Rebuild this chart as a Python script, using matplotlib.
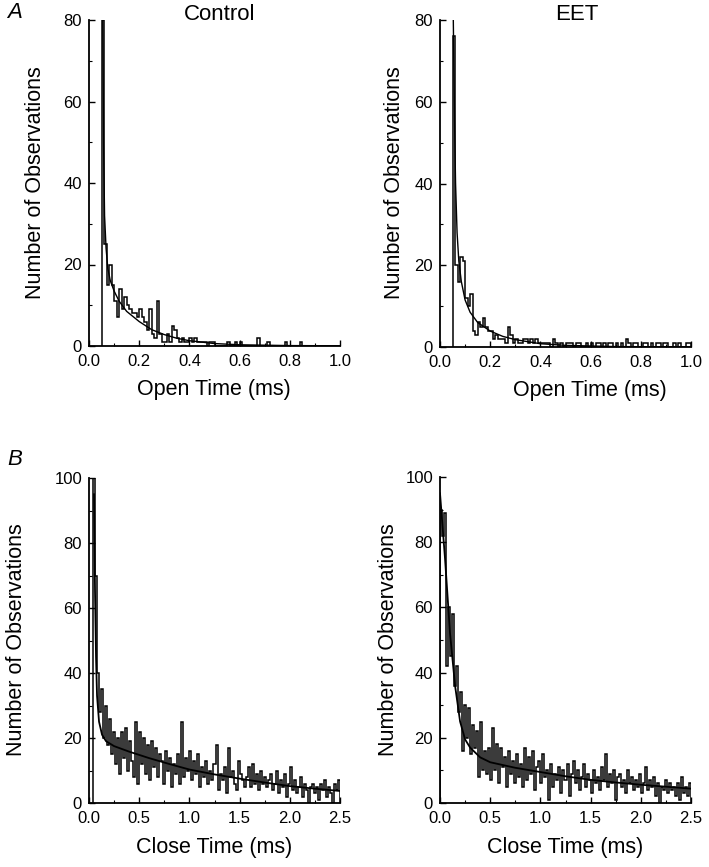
import numpy as np
import matplotlib
matplotlib.use('Agg')
import matplotlib.pyplot as plt
from matplotlib.ticker import MultipleLocator

plt.rcParams['font.family'] = ['Liberation Sans', 'DejaVu Sans']

# ---- Datos: tiempos de apertura (bins de 0.01 ms desde 0.05 ms)
open_start = 0.05
open_bin = 0.01
open_control = [80, 25, 15, 20, 15, 11, 7, 14, 9, 12, 10, 9, 8, 8, 7, 9, 7, 6, 4, 9,
                3, 2, 11, 3, 1, 1, 3, 1, 5, 4, 2, 1, 2, 1, 1, 2, 1, 2, 1, 1,
                1, 1, 0, 1, 1, 0, 0, 0, 0, 0, 1, 0, 0, 1, 0, 1, 0, 0, 0, 0,
                0, 0, 2, 0, 0, 0, 1, 0, 0, 0, 0, 0, 0, 1, 0, 0, 0, 0, 0, 1,
                0, 0, 0, 0, 0, 0, 0, 0, 0, 0, 0, 0, 0, 0, 0]
open_eet = [76, 20, 16, 22, 21, 12, 10, 13, 4, 3, 6, 5, 7, 5, 4, 4, 2, 3, 2, 2,
            2, 1, 5, 3, 1, 2, 1, 1, 2, 2, 1, 2, 1, 2, 1, 1, 1, 1, 1, 0,
            2, 1, 0, 1, 0, 1, 1, 1, 0, 1, 1, 0, 0, 1, 0, 1, 0, 1, 1, 0,
            1, 0, 1, 1, 0, 1, 0, 1, 0, 2, 1, 0, 1, 1, 0, 0, 1, 1, 0, 1,
            0, 1, 1, 0, 1, 1, 0, 0, 1, 0, 1, 0, 0, 1, 1]

# curvas de ajuste
fit_open_control_t = [0.055, 0.058, 0.062, 0.068, 0.075, 0.085, 0.10, 0.12, 0.15, 0.20,
                      0.25, 0.30, 0.35, 0.40, 0.50, 0.60, 0.80, 1.00]
fit_open_control_y = [80, 50, 32, 24, 19, 16, 13.5, 11, 8.5, 6.0,
                      4.0, 2.8, 1.9, 1.3, 0.6, 0.3, 0.1, 0.05]
fit_open_eet_t = [0.053, 0.058, 0.062, 0.068, 0.075, 0.085, 0.10, 0.12, 0.15, 0.20,
                  0.25, 0.30, 0.40, 0.50, 0.70, 1.00]
fit_open_eet_y = [80, 55, 40, 28, 21, 16, 11.5, 8.5, 6.0, 3.9,
                  2.6, 1.8, 0.8, 0.4, 0.1, 0.02]

# ---- Datos: tiempos de cierre (bins de 0.02 ms)
close_bin = 0.02
close_control_start = 0.04
close_control = [100, 70, 40, 28, 35, 20, 30, 18, 26, 15, 22, 12, 20, 9, 22, 14, 23, 10, 19, 13,
                 8, 25, 6, 22, 12, 20, 9, 18, 7, 19, 11, 17, 8, 15, 13, 6, 16, 10, 14, 5,
                 12, 9, 15, 6, 25, 8, 14, 10, 16, 7, 13, 9, 15, 5, 11, 8, 13, 6, 10, 7,
                 12, 18, 4, 9, 7, 11, 3, 17, 8, 10, 6, 4, 13, 9, 7, 5, 8, 11, 5, 12,
                 6, 9, 4, 10, 6, 8, 5, 7, 9, 4, 6, 10, 3, 7, 5, 9, 2, 6, 11, 4,
                 7, 3, 5, 8, 2, 6, 4, 0, 5, 6, 3, 5, 1, 6, 4, 7, 2, 5, 3, 0,
                 6, 4, 7]
close_eet_start = 0.0
close_eet = [90, 82, 89, 42, 60, 45, 58, 36, 42, 28, 34, 16, 30, 20, 29, 15, 24, 17, 22, 8,
             25, 10, 16, 9, 17, 7, 23, 10, 18, 6, 17, 11, 14, 5, 16, 9, 13, 6, 15, 8,
             12, 5, 17, 7, 14, 9, 16, 4, 11, 13, 6, 15, 8, 10, 1, 12, 5, 9, 7, 11,
             3, 10, 7, 12, 2, 9, 13, 6, 10, 4, 8, 12, 5, 9, 7, 3, 10, 6, 8, 4,
             11, 7, 15, 5, 9, 6, 10, 1, 8, 9, 5, 7, 3, 10, 6, 8, 4, 7, 5, 9,
             3, 6, 11, 4, 7, 5, 8, 2, 6, 0, 5, 4, 7, 3, 6, 4, 5, 2, 6, 1,
             8, 3, 5, 2, 6]

fit_close_control_t = [0.05, 0.06, 0.07, 0.08, 0.10, 0.13, 0.17, 0.25, 0.40, 0.60,
                       0.80, 1.00, 1.25, 1.50, 1.75, 2.00, 2.25, 2.50]
fit_close_control_y = [95, 65, 45, 33, 25, 21, 19, 17.5, 15.8, 13.8,
                       12.0, 10.3, 8.8, 7.5, 6.3, 5.2, 4.4, 3.7]
fit_close_eet_t = [0.0, 0.05, 0.10, 0.15, 0.20, 0.25, 0.30, 0.40, 0.50, 0.75,
                   1.00, 1.25, 1.50, 1.75, 2.00, 2.25, 2.50]
fit_close_eet_y = [95, 75, 52, 36, 25, 19.5, 17, 14, 12.5, 10.8,
                   9.5, 8.2, 7.1, 6.3, 5.6, 5.0, 4.4]

W, H = 709, 867
fig = plt.figure(figsize=(W / 100, H / 100), dpi=100)


def make_ax(x0, x1, ytop, ybot):
    return fig.add_axes([x0 / W, 1 - ybot / H, (x1 - x0) / W, (ybot - ytop) / H])


def style(ax, xmax, xmaj, xmin, ymax):
    ax.set_xlim(0, xmax)
    ax.set_ylim(0, ymax)
    for s in ['top', 'right']:
        ax.spines[s].set_visible(False)
    for s in ['left', 'bottom']:
        ax.spines[s].set_linewidth(1.3)
    ax.xaxis.set_major_locator(MultipleLocator(xmaj))
    ax.xaxis.set_minor_locator(MultipleLocator(xmin))
    ax.yaxis.set_major_locator(MultipleLocator(20))
    ax.yaxis.set_minor_locator(MultipleLocator(10))
    ax.tick_params(which='major', direction='in', length=4, width=1, labelsize=12)
    ax.tick_params(which='minor', direction='in', length=2.5, width=0.8)
    ax.tick_params(axis='x', which='major', pad=6)
    ax.tick_params(axis='y', which='major', pad=5)
    ax.xaxis.set_major_formatter(matplotlib.ticker.FormatStrFormatter('%.1f'))


def hist(ax, start, width, vals):
    edges = start + width * np.arange(len(vals) + 1)
    ax.stairs(vals, edges, color='black', lw=1.1, baseline=0)


axA1 = make_ax(89, 340, 20, 346)
axA2 = make_ax(440, 691, 20, 347)
axB1 = make_ax(89, 340, 478, 803)
axB2 = make_ax(440, 691, 477, 803)

hist(axA1, open_start, open_bin, open_control)
axA1.plot(fit_open_control_t, fit_open_control_y, color='black', lw=1.0)
hist(axA2, open_start, open_bin, open_eet)
axA2.plot(fit_open_eet_t, fit_open_eet_y, color='black', lw=1.0)
hist(axB1, close_control_start, close_bin, close_control)
axB1.plot(fit_close_control_t, fit_close_control_y, color='black', lw=1.3)
hist(axB2, close_eet_start, close_bin, close_eet)
axB2.plot(fit_close_eet_t, fit_close_eet_y, color='black', lw=1.3)

for ax in (axA1, axA2):
    style(ax, 1.0, 0.2, 0.1, 80)
for ax in (axB1, axB2):
    style(ax, 2.5, 0.5, 0.25, 100)

lab = 15.5
fig.text(36 / W, 1 - 183 / H, 'Number of Observations', rotation=90, fontsize=lab, ha='center', va='center')
fig.text(394 / W, 1 - 183 / H, 'Number of Observations', rotation=90, fontsize=lab, ha='center', va='center')
fig.text(17 / W, 1 - 640 / H, 'Number of Observations', rotation=90, fontsize=lab, ha='center', va='center')
fig.text(389 / W, 1 - 640 / H, 'Number of Observations', rotation=90, fontsize=lab, ha='center', va='center')

fig.text(214 / W, 1 - 389 / H, 'Open Time (ms)', fontsize=lab, ha='center', va='center')
fig.text(590 / W, 1 - 391 / H, 'Open Time (ms)', fontsize=lab, ha='center', va='center')
fig.text(214 / W, 1 - 847 / H, 'Close Time (ms)', fontsize=lab, ha='center', va='center')
fig.text(565 / W, 1 - 847 / H, 'Close Time (ms)', fontsize=lab, ha='center', va='center')

fig.text(220 / W, 1 - 15 / H, 'Control', fontsize=16, ha='center', va='center')
fig.text(577 / W, 1 - 15 / H, 'EET', fontsize=16, ha='center', va='center')

fig.text(15 / W, 1 - 13 / H, 'A', fontsize=16, style='italic', ha='center', va='center')
fig.text(15 / W, 1 - 460 / H, 'B', fontsize=16, style='italic', ha='center', va='center')

fig.savefig('out.png', dpi=100)
